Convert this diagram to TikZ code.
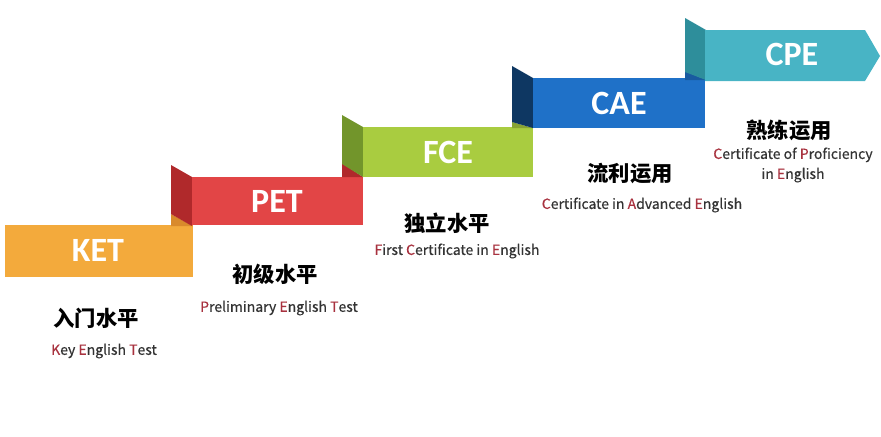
\documentclass[tikz,border=0pt]{standalone}
\usepackage{fontspec}
\setmainfont{Noto Sans CJK SC}
\newfontfamily\labelfont{Carlito}
\newfontfamily\cjkfont{Noto Sans CJK SC}
\newfontfamily\enfont[FakeBold=0.5]{Noto Sans CJK SC}
\definecolor{ketorange}{HTML}{F3AA3C}
\definecolor{ketdark}{HTML}{D98A2C}
\definecolor{petred}{HTML}{E24546}
\definecolor{petdark}{HTML}{B0292B}
\definecolor{fcegreen}{HTML}{A9CC40}
\definecolor{fcedark}{HTML}{72952B}
\definecolor{caeblue}{HTML}{1F71C8}
\definecolor{caedark}{HTML}{0E3762}
\definecolor{cpeteal}{HTML}{48B4C5}
\definecolor{cpedark}{HTML}{2E8E9B}
\definecolor{initred}{HTML}{A8323F}
\definecolor{bodygray}{HTML}{333333}
\newcommand{\hl}[1]{\textcolor{initred}{#1}}
\tikzset{
  levelname/.style={text=white, font=\labelfont\bfseries\fontsize{25.5}{28}\selectfont},
  levelcn/.style={text=black, font=\cjkfont\bfseries\fontsize{16}{18}\selectfont},
  levelen/.style={text=bodygray, font=\enfont\fontsize{10.5}{15}\selectfont, align=center}
}
\begin{document}
\begin{tikzpicture}[x=0.75pt,y=0.75pt,yscale=-1,xscale=1]
\useasboundingbox (0,0) rectangle (881,436);

%KET band
\fill [ketorange] (5,225) rectangle (193,277) ;
\fill [ketdark] (171,214) -- (193,226) -- (171,226) -- cycle ;
%PET fold
\fill [petdark] (171,165) -- (192,177) -- (192,226) -- (171,214) -- cycle ;
%PET band
\fill [petred] (192,177) rectangle (363,225) ;
\fill [petdark] (342,163) -- (363,177) -- (342,177) -- cycle ;
%FCE fold
\fill [fcedark] (342,115) -- (363,127) -- (363,177) -- (342,164) -- cycle ;
%FCE band
\fill [fcegreen] (363,127) rectangle (533,177) ;
\fill [fcegreen!80!black] (512,122) -- (533,128) -- (512,128) -- cycle ;
%CAE fold
\fill [caedark] (512,66) -- (533,78) -- (533,128) -- (512,122) -- cycle ;
%CAE band
\fill [caeblue] (533,78) rectangle (705,128) ;
\fill [caeblue!80!black] (685,71) -- (706,80) -- (685,80) -- cycle ;
%CPE fold
\fill [cpedark] (685,18) -- (706,30) -- (706,80) -- (685,72) -- cycle ;
%CPE arrow
\fill [cpeteal] (705,30) -- (865,30) -- (880,56) -- (865,81) -- (705,81) -- cycle ;

%Level names
\node [levelname] (ket) at (98,250) {KET};
\node [levelname] (pet) at (277,201) {PET};
\node [levelname] (fce) at (448,152) {FCE};
\node [levelname] (cae) at (619,103) {CAE};
\node [levelname] (cpe) at (792,54) {CPE};

%Descriptions
\node [levelcn] (ketcn) at (96,318) {入门水平};
\node [levelen] (keten) at (104,351) {\hl{K}ey \hl{E}nglish \hl{T}est};
\node [levelcn] (petcn) at (275,274) {初级水平};
\node [levelen] (peten) at (279,308) {\hl{P}reliminary \hl{E}nglish \hl{T}est};
\node [levelcn] (fcecn) at (447,223) {独立水平};
\node [levelen] (fceen) at (457,251) {\hl{F}irst \hl{C}ertificate in \hl{E}nglish};
\node [levelcn] (caecn) at (630,174) {流利运用};
\node [levelen] (caeen) at (642,205) {\hl{C}ertificate in \hl{A}dvanced \hl{E}nglish};
\node [levelcn] (cpecn) at (789,130) {熟练运用};
\node [levelen] (cpeen) at (793,165) {\hl{C}ertificate of \hl{P}roficiency\\in \hl{E}nglish};
\end{tikzpicture}
\end{document}
